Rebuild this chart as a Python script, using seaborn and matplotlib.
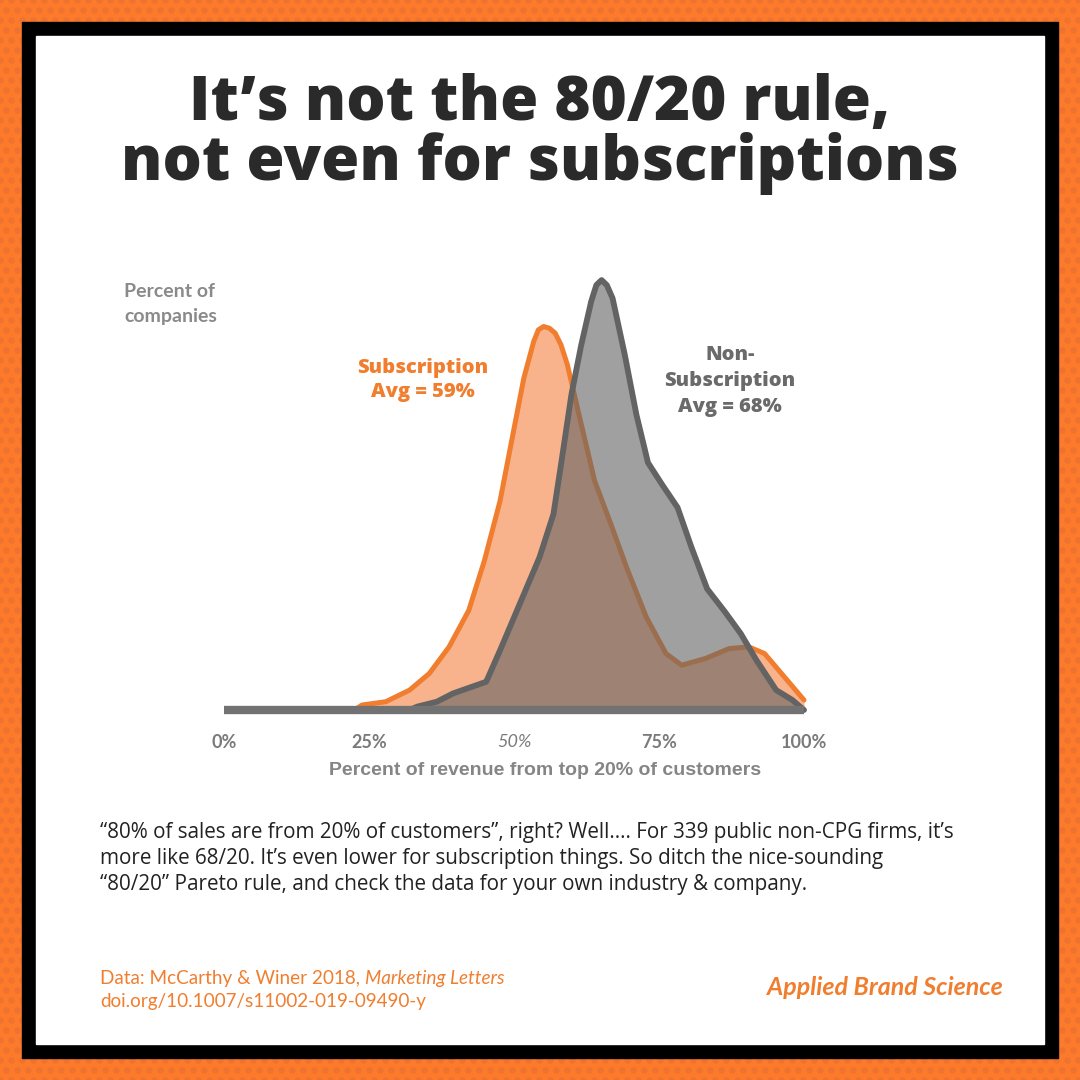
import numpy as np
import pandas as pd
import matplotlib
matplotlib.use('Agg')
import matplotlib.pyplot as plt
from matplotlib.patches import Rectangle
import seaborn as sns

# =============================================================================
# Data (x = % of revenue from top 20%, y = relative share)
# =============================================================================
sub_pct = [22.5, 23.8, 27.9, 32.0, 35.4, 38.8, 42.2, 44.9, 47.6, 49.7, 51.7, 53.4, 54.2,
           55.1, 56.1, 57.1, 58.1, 59.2, 61.2, 63.9, 66.7, 69.4, 72.8, 76.2, 78.9,
           83.0, 87.1, 90.5, 93.2, 96.6, 100.0]
sub_share = [0.0, 0.15, 0.25, 0.6, 1.1, 1.9, 3.0, 4.5, 6.3, 8.2, 10.0, 11.1, 11.45,
             11.55, 11.5, 11.35, 11.0, 10.4, 8.9, 6.9, 5.6, 4.3, 2.8, 1.7, 1.35,
             1.55, 1.85, 1.9, 1.7, 1.0, 0.3]

non_pct = [32.0, 33.3, 36.7, 39.5, 45.2, 47.6, 51.0, 54.4, 56.8, 58.2, 59.9, 61.6, 63.3,
           64.2, 65.1, 66.0, 67.0, 69.1, 71.1, 73.1, 75.5, 78.2, 80.6, 83.3, 86.4,
           89.1, 91.8, 95.2, 98.0, 100.0]
non_share = [0.0, 0.1, 0.25, 0.5, 0.85, 1.8, 3.2, 4.6, 5.9, 7.5, 9.5, 11.0, 12.3,
             12.8, 12.95, 12.8, 12.4, 10.7, 8.9, 7.45, 6.8, 6.1, 4.9, 3.65, 2.95,
             2.3, 1.5, 0.6, 0.3, 0.0]

tick_values = [0, 25, 50, 75, 100]
tick_labels = ['0%', '25%', '50%', '75%', '100%']

sub_df = pd.DataFrame({'pct': sub_pct, 'share': sub_share})
non_df = pd.DataFrame({'pct': non_pct, 'share': non_share})

# Colours
BG_ORANGE = '#FE7A2B'
DOT_ORANGE = '#EE7230'
LINE_ORANGE = '#F07E2E'
FILL_ORANGE = '#F9B38C'
LINE_GRAY = '#636363'
FILL_GRAY = '#646464'
BASE_GRAY = '#727272'
TITLE = '#2A2A2A'

sns.set_style('white')
plt.rcParams['font.family'] = ['Open Sans', 'Lato', 'DejaVu Sans']

fig = plt.figure(figsize=(10.8, 10.8), dpi=100)

# =============================================================================
# Background: dotted orange, black frame, white panel (pixel coordinates)
# =============================================================================
bg = fig.add_axes([0, 0, 1, 1])
bg.set_xlim(0, 1080)
bg.set_ylim(1080, 0)
bg.axis('off')
bg.add_patch(Rectangle((0, 0), 1080, 1080, color=BG_ORANGE, zorder=0))
gx, gy = np.meshgrid(np.arange(0, 1090, 11.0), np.arange(0, 1090, 10.0))
gx[1::2] += 5.5
bg.scatter(gx.ravel(), gy.ravel(), s=22, color=DOT_ORANGE, linewidths=0, zorder=1)
bg.add_patch(Rectangle((22, 22), 1036, 1036, color='black', zorder=2))
bg.add_patch(Rectangle((36, 36), 1008, 1008, color='white', zorder=3))

# Title (one text, two lines; baseline = last line)
bg.text(540, 180, 'It\u2019s not the 80/20 rule,\nnot even for subscriptions', ha='center',
        va='baseline', multialignment='center', linespacing=0.93,
        fontsize=44.5, fontweight=800, color=TITLE, zorder=5)

# Y label
bg.text(124, 297, 'Percent of', ha='left', va='baseline', fontsize=14,
        fontweight='bold', color='#8a8a8a', family=['Lato', 'DejaVu Sans'], zorder=5)
bg.text(124, 322, 'companies', ha='left', va='baseline', fontsize=14,
        fontweight='bold', color='#8a8a8a', family=['Lato', 'DejaVu Sans'], zorder=5)

# Series labels
for yy, s in zip([373, 397], ['Subscription', 'Avg = 59%']):
    bg.text(423, yy, s, ha='center', va='baseline', fontsize=14.5,
            fontweight=800, color=LINE_ORANGE, zorder=5)
for yy, s in zip([360, 386, 412], ['Non-', 'Subscription', 'Avg = 68%']):
    bg.text(730, yy, s, ha='center', va='baseline', fontsize=14.5,
            fontweight=800, color='#6a6a6a', zorder=5)

# X label
bg.text(545, 775, 'Percent of revenue from top 20% of customers', ha='center',
        va='baseline', fontsize=14, fontweight='bold', color='#858585',
        family=['Liberation Sans Narrow', 'Liberation Sans', 'DejaVu Sans'], zorder=5)

# Paragraph
para = ['\u201c80% of sales are from 20% of customers\u201d, right? Well.... For 339 public non-CPG firms, it\u2019s',
        'more like 68/20. It\u2019s even lower for subscription things. So ditch the nice-sounding',
        '\u201c80/20\u201d Pareto rule, and check the data for your own industry & company.']
for yy, s in zip([838, 864, 890], para):
    bg.text(100, yy, s, ha='left', va='baseline', fontsize=14.9, color='#222222', zorder=5)

# Footer
src = bg.text(100, 984, 'Data: McCarthy & Winer 2018,', ha='left', va='baseline',
              fontsize=13.6, color=LINE_ORANGE, family=['Lato', 'DejaVu Sans'], zorder=5)
bg.text(100, 1007, 'doi.org/10.1007/s11002-019-09490-y', ha='left', va='baseline',
        fontsize=13.6, color=LINE_ORANGE, family=['Lato', 'DejaVu Sans'], zorder=5)
fig.canvas.draw()
x_end = src.get_window_extent().x1 + 5  # bg axes x equals pixel x
bg.text(x_end, 984, 'Marketing Letters', ha='left', va='baseline',
        fontsize=13.6, fontstyle='italic', color=LINE_ORANGE,
        family=['Lato', 'DejaVu Sans'], zorder=5)
bg.text(1003, 995, 'Applied Brand Science', ha='right', va='baseline',
        fontsize=18, fontstyle='italic', fontweight='bold', color=LINE_ORANGE,
        family=['Lato', 'DejaVu Sans'], zorder=5)

# =============================================================================
# Chart
# =============================================================================
px = 33.2  # pixels per y unit
y_lo, y_hi = -0.5, 14.0
bottom_px = 710 - y_lo * px
top_px = 710 - y_hi * px
ax = fig.add_axes([224 / 1080, 1 - bottom_px / 1080, 580 / 1080, (bottom_px - top_px) / 1080])
ax.patch.set_alpha(0)

ax.fill_between(sub_df['pct'], sub_df['share'], color=FILL_ORANGE, lw=0, zorder=1)
sns.lineplot(data=sub_df, x='pct', y='share', ax=ax, color=LINE_ORANGE, linewidth=3.6,
             sort=False, zorder=2, clip_on=False)
ax.fill_between(non_df['pct'], non_df['share'], color=FILL_GRAY, alpha=0.61, lw=0, zorder=3)
sns.lineplot(data=non_df, x='pct', y='share', ax=ax, color=LINE_GRAY, linewidth=4.2,
             sort=False, zorder=4, clip_on=False)
for ln in ax.get_lines():
    ln.set_solid_joinstyle('round')
    ln.set_solid_capstyle('round')
ax.axhline(0, color=BASE_GRAY, linewidth=6, zorder=5, solid_capstyle='butt', clip_on=False)

ax.set_xlim(0, 100)
ax.set_ylim(y_lo, y_hi)
ax.set_yticks([])
ax.set_xticks(tick_values)
ax.set_xticklabels(tick_labels, family=['Lato', 'DejaVu Sans'])
ax.tick_params(axis='x', length=0, pad=5, labelsize=13, labelcolor='#7a7a7a')
for lab in ax.get_xticklabels():
    lab.set_fontweight('bold')
ax.get_xticklabels()[2].set_fontstyle('italic')
ax.get_xticklabels()[2].set_fontweight('normal')
ax.set_xlabel('')
ax.set_ylabel('')
sns.despine(ax=ax, left=True, bottom=True)

fig.savefig('out.png', dpi=100)
